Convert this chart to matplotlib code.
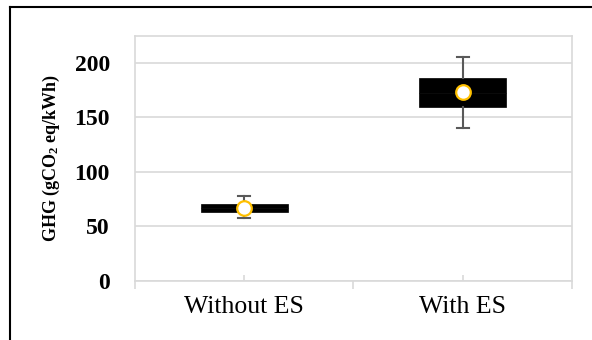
import matplotlib
matplotlib.use("Agg")
import matplotlib.pyplot as plt
from matplotlib.lines import Line2D

categories = ["Without ES", "With ES"]
whisker_low = [58.0, 140.0]
q1 = [62.7, 159.3]
median = [66.7, 172.8]
q3 = [70.8, 186.0]
whisker_high = [77.7, 205.5]
mean = [67.0, 173.0]
yticks = [0, 50, 100, 150, 200]

plt.rcParams["font.family"] = ["Liberation Serif", "DejaVu Serif"]
plt.rcParams["mathtext.fontset"] = "custom"
plt.rcParams["mathtext.rm"] = "Liberation Serif:bold"
plt.rcParams["mathtext.it"] = "Liberation Serif:bold"
plt.rcParams["mathtext.bf"] = "Liberation Serif:bold"
plt.rcParams["mathtext.default"] = "rm"

fig = plt.figure(figsize=(5.92, 3.40), dpi=100)
ax = fig.add_axes([0.228, 0.1744, 0.738, 0.7206])

stats = []
for i, c in enumerate(categories):
    stats.append(dict(label=c, whislo=whisker_low[i], q1=q1[i], med=median[i],
                      q3=q3[i], whishi=whisker_high[i], mean=mean[i]))
pos = list(range(1, len(categories) + 1))
ax.bxp(stats, positions=pos, widths=0.4, showmeans=True, patch_artist=True,
       capwidths=0.055, showfliers=False,
       boxprops=dict(facecolor="black", edgecolor="black", linewidth=0.5),
       medianprops=dict(color="#0d0d0d", linewidth=0.6),
       whiskerprops=dict(color="#595959", linewidth=1.5),
       capprops=dict(color="#595959", linewidth=1.5),
       meanprops=dict(marker="o", markerfacecolor="white", markeredgecolor="#FFC000",
                      markeredgewidth=1.6, markersize=10.5),
       zorder=3)

ax.set_xlim(0.5, 2.5)
ax.set_ylim(0, 225)
ax.set_yticks(yticks)
ax.set_yticklabels([str(v) for v in yticks], fontsize=17, fontweight="bold")
ax.yaxis.grid(True, color="#D9D9D9", linewidth=1.2, zorder=0)
ax.set_axisbelow(True)
ax.tick_params(axis="y", length=0, pad=18)

ax.set_xticks(pos)
ax.set_xticklabels(categories, fontsize=18.5)
ax.set_xticks([0.5, 1.5, 2.5], minor=True)
ax.tick_params(axis="x", which="major", direction="in", length=4, width=1.2,
               color="#D9D9D9", pad=11)
ax.tick_params(axis="x", which="minor", direction="out", length=6, width=1.2,
               color="#D9D9D9")

for s in ax.spines.values():
    s.set_color("#D9D9D9")
    s.set_linewidth(1.2)

ax.set_ylabel(r"GHG (gCO$_2$ eq/kWh)", fontsize=13, fontweight="bold", labelpad=4)
ax.yaxis.set_label_coords(-0.166, 0.5)

W, H = 592, 340
fig.add_artist(Line2D([10 / W, 10 / W], [0, 1 - 7 / H], color="black", linewidth=1.5,
                      transform=fig.transFigure))
fig.add_artist(Line2D([10 / W, 1], [1 - 7 / H, 1 - 7 / H], color="black", linewidth=1.5,
                      transform=fig.transFigure))

fig.savefig("out.png", dpi=100)
